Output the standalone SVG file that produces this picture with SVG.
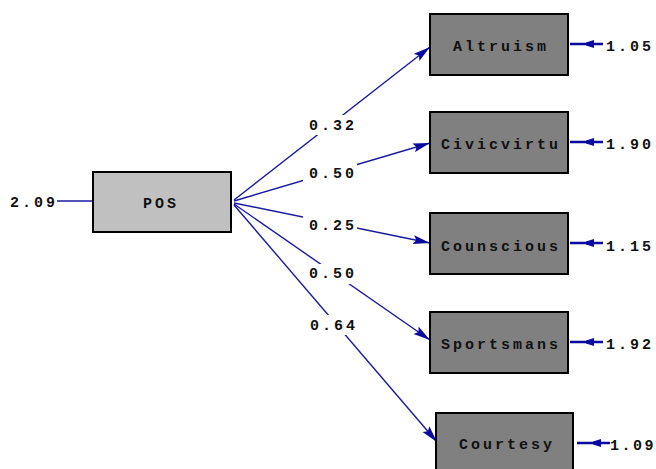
<svg xmlns="http://www.w3.org/2000/svg" width="656" height="469" viewBox="0 0 656 469">
<style>
.t{font-family:"Liberation Mono","DejaVu Sans Mono",monospace;font-size:15px;font-weight:bold;letter-spacing:3px;fill:#111}
.n{font-family:"Liberation Mono","DejaVu Sans Mono",monospace;font-size:15px;font-weight:bold;fill:#111}
.obs{fill:#808080;stroke:#000;stroke-width:2}
.lat{fill:#c0c0c0;stroke:#000;stroke-width:2}
.p{stroke:#1a1aa0;stroke-width:1.4;fill:none}
.gap{fill:#fff}
</style>
<defs>
<marker id="ah" markerUnits="userSpaceOnUse" markerWidth="18" markerHeight="10" refX="17" refY="5" orient="auto">
<path d="M0,0.5 L17,5 L0,9.5 L3,5 z" fill="#0a0aa0"/>
</marker>
<g id="err">
<line x1="0" y1="0" x2="33" y2="0" stroke="#0a0aa0" stroke-width="2.4"/>
<polygon points="16,-1.5 24,-4 24,4 16,1.5" fill="#0a0aa0"/>
</g>
</defs>
<rect width="656" height="469" fill="#fff"/>
<g id="connectors">
<line class="p" x1="57" y1="201" x2="93" y2="201" stroke-width="2"/>
<line class="p" x1="234" y1="200" x2="430" y2="47" marker-end="url(#ah)"/>
<line class="p" x1="234" y1="201" x2="430" y2="143" marker-end="url(#ah)"/>
<line class="p" x1="234" y1="203" x2="430" y2="243" marker-end="url(#ah)"/>
<line class="p" x1="234" y1="204" x2="430" y2="340" marker-end="url(#ah)"/>
<line class="p" x1="234" y1="205" x2="437" y2="442" marker-end="url(#ah)"/>
<rect class="gap" x="303" y="115" width="54" height="20"/>
<rect class="gap" x="303" y="164" width="54" height="20"/>
<rect class="gap" x="303" y="215" width="54" height="20"/>
<rect class="gap" x="303" y="264" width="54" height="20"/>
<rect class="gap" x="304" y="315" width="56" height="20"/>
<text class="t" x="309" y="130">0.32</text>
<text class="t" x="309" y="178">0.50</text>
<text class="t" x="309" y="230">0.25</text>
<text class="t" x="309" y="278">0.50</text>
<text class="t" x="310" y="330">0.64</text>
<use href="#err" x="570" y="44"/>
<use href="#err" x="570" y="142"/>
<use href="#err" x="570" y="243"/>
<use href="#err" x="570" y="342"/>
<use href="#err" x="577" y="443"/>
<text class="t" x="10" y="207">2.09</text>
<text class="t" x="606" y="50.5">1.05</text>
<text class="t" x="606" y="149">1.90</text>
<text class="t" x="606" y="251">1.15</text>
<text class="t" x="606" y="349">1.92</text>
<text class="n" x="610 621.5 633 644.5" y="450">1.09</text>
</g>
<g id="POS">
<rect class="lat" x="93" y="172" width="138" height="60"/>
<text class="t" x="143" y="207.5">POS</text>
</g>
<g id="Altruism">
<rect class="obs" x="430" y="14" width="138" height="61"/>
<text class="t" x="453" y="50.5">Altruism</text>
</g>
<g id="Civicvirtu">
<rect class="obs" x="430" y="112" width="138" height="61"/>
<text class="t" x="441" y="148.5">Civicvirtu</text>
</g>
<g id="Counscious">
<rect class="obs" x="430" y="213" width="138" height="61"/>
<text class="t" x="441" y="250.5">Counscious</text>
</g>
<g id="Sportsmans">
<rect class="obs" x="430" y="312" width="138" height="61"/>
<text class="t" x="441" y="348.5">Sportsmans</text>
</g>
<g id="Courtesy">
<rect class="obs" x="436" y="413" width="137" height="62"/>
<text class="t" x="459" y="449">Courtesy</text>
</g>
</svg>
